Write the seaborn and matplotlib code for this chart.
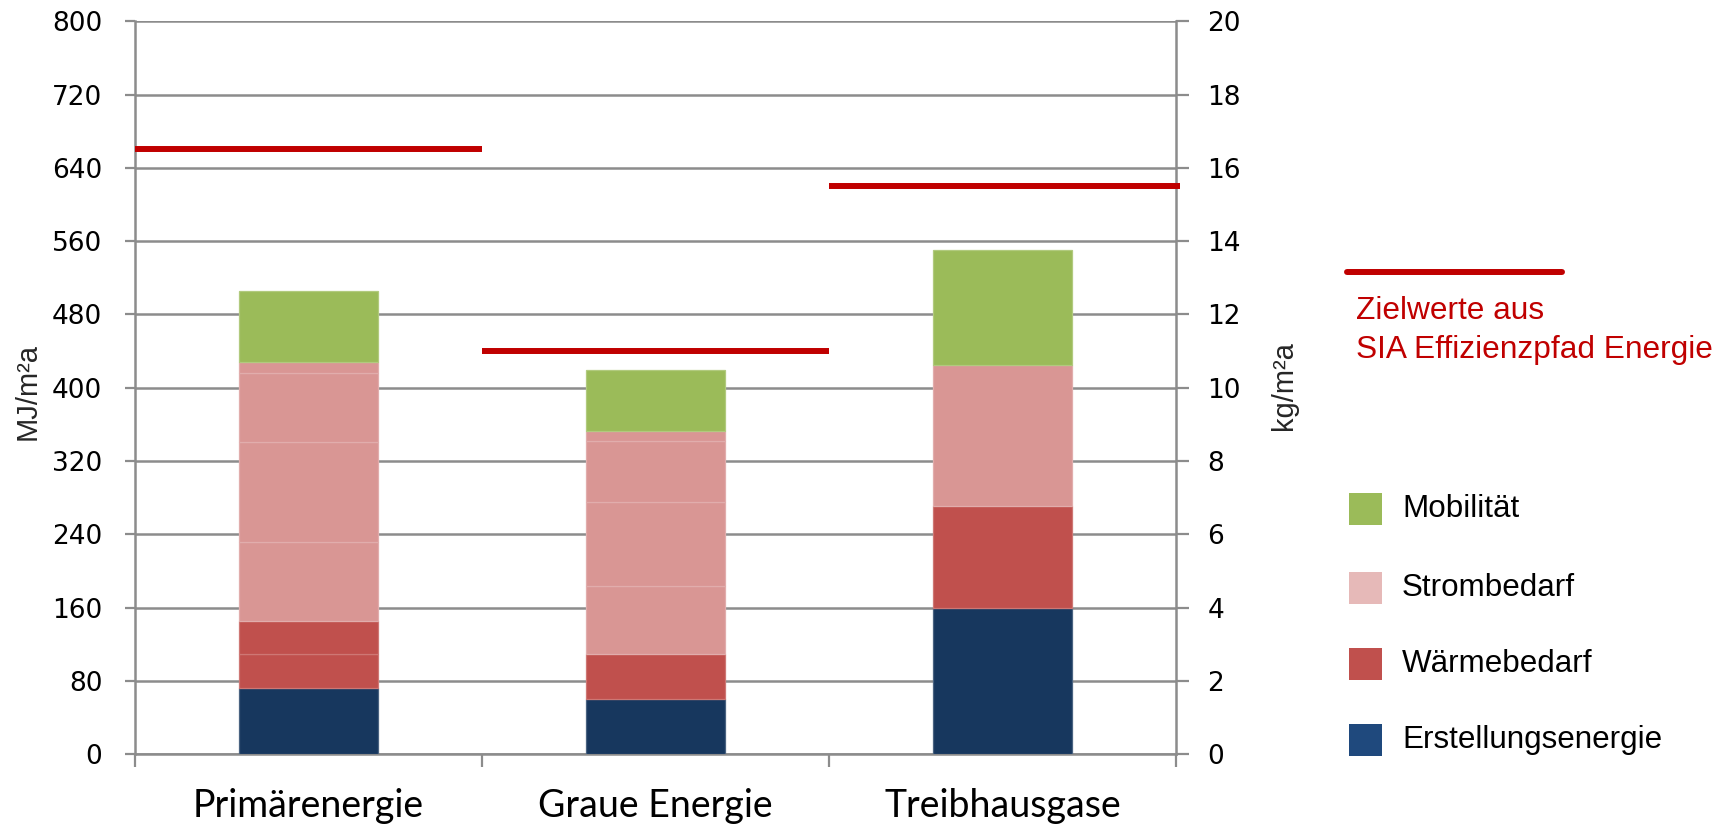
import numpy as np
import pandas as pd
import matplotlib
matplotlib.use("Agg")
import matplotlib.pyplot as plt
from matplotlib.lines import Line2D
from matplotlib.patches import Rectangle
import matplotlib.colors as mcolors
import seaborn as sns

# ---- data -------------------------------------------------------------
categories = ["Primärenergie", "Graue Energie", "Treibhausgase"]
# first two categories in MJ/m²a (left axis), last one in kg/m²a (right axis)
erstellung = [72.3, 60.2, 4.0]
waerme = [[37.1, 36.7], [48.9], [2.77]]
strom = [[85.4, 109.0, 75.2, 12.0], [74.5, 92.3, 65.7, 11.0], [3.84]]
mobilitaet = [78.1, 67.1, 3.14]
zielwerte = [660, 440, 15.5]

left_ticks = list(range(0, 801, 80))
right_ticks = list(range(0, 21, 2))

legend_labels = ["Mobilität", "Strombedarf", "Wärmebedarf", "Erstellungsenergie"]
target_label = ["Zielwerte aus", "SIA Effizienzpfad Energie"]

# ---- colours ------------------------------------------------------------
bar_colors = {"Erstellung": "#17375E", "Wärme": "#C0504D",
              "Strom": "#D99694", "Mobilität": "#9BBB59"}
legend_colors = ["#9BBB59", "#E6B9B8", "#C0504D", "#1F497D"]
target_color = "#C00000"
grid_color = "#8C8C8C"


def lighter(c, f=0.22):
    r, g, b = mcolors.to_rgb(c)
    return (r + (1 - r) * f, g + (1 - g) * f, b + (1 - b) * f)


# ---- long-form segment table -------------------------------------------
rows = []
for i, cat in enumerate(categories):
    parts = ([("Erstellung", erstellung[i])]
             + [("Wärme", v) for v in waerme[i]]
             + [("Strom", v) for v in strom[i]]
             + [("Mobilität", mobilitaet[i])])
    bottoms = np.concatenate([[0], np.cumsum([v for _, v in parts])[:-1]])
    for (group, v), b in zip(parts, bottoms):
        rows.append({"kategorie": cat, "gruppe": group, "wert": v, "basis": b})
segments = pd.DataFrame(rows)

# ---- figure -------------------------------------------------------------
sns.set_theme(style="white")
plt.rcParams["font.family"] = ["DejaVu Sans"]

fig = plt.figure(figsize=(17.28, 8.27), dpi=100)
ax = fig.add_axes([0.0781, 0.0877, 0.6025, 0.8867])
ax2 = ax.twinx()

for _, r in segments.iterrows():
    target_ax = ax2 if r["kategorie"] == "Treibhausgase" else ax
    col = bar_colors[r["gruppe"]]
    sns.barplot(x=[r["kategorie"]], y=[r["wert"]], order=categories,
                bottom=r["basis"], width=0.4, color=col, saturation=1,
                errorbar=None, edgecolor=lighter(col), linewidth=0.9,
                ax=target_ax, zorder=3)

# target values
ax.hlines(zielwerte[0], -0.5, 0.5, color=target_color, lw=4.3, zorder=6, clip_on=False)
ax.hlines(zielwerte[1], 0.5, 1.5, color=target_color, lw=4.3, zorder=6, clip_on=False)
ax2.hlines(zielwerte[2], 1.5, 2.51, color=target_color, lw=4.3, zorder=6, clip_on=False)

# axes ranges and ticks
ax.set_xlim(-0.5, 2.5)
ax.set_ylim(0, 800)
ax2.set_ylim(0, 20)
ax.set_yticks(left_ticks)
ax2.set_yticks(right_ticks)
ax.set_xticks(range(len(categories)))
ax.set_xticklabels(categories, family=["Lato", "DejaVu Sans"], fontsize=27)
ax.set_xticks([-0.5, 0.5, 1.5, 2.5], minor=True)
ax.set_xlabel("")
ax2.set_xlabel("")
ax.set_ylabel("")
ax2.set_ylabel("")

ax.yaxis.grid(True, color=grid_color, lw=1.8)
ax.xaxis.grid(False)
ax2.grid(False)
ax.set_axisbelow(True)

ax.tick_params(axis="y", left=True, length=7.5, width=1.6, color=grid_color,
               pad=16, labelsize=19, labelcolor="black")
ax2.tick_params(axis="y", right=True, length=9.5, width=1.6, color=grid_color,
                pad=13, labelsize=19, labelcolor="black")
ax.tick_params(axis="x", which="major", bottom=False, length=0, pad=24,
               labelcolor="black")
ax.tick_params(axis="x", which="minor", bottom=True, length=9, width=1.6,
               color=grid_color)
ax2.tick_params(axis="x", which="both", bottom=False, top=False,
                labelbottom=False)

for s in ["top", "right"]:
    ax.spines[s].set_visible(False)
for s in ["top", "left", "bottom"]:
    ax2.spines[s].set_visible(False)
for sp in [ax.spines["left"], ax.spines["bottom"], ax2.spines["right"]]:
    sp.set_color(grid_color)
    sp.set_linewidth(1.8)

# axis titles
W, H = 1728, 827
narrow = ["Liberation Sans Narrow", "Liberation Sans", "DejaVu Sans"]
fig.text(27.5 / W, 1 - 391 / H, "MJ/m²a", rotation=90, ha="center",
         va="center", fontsize=21, family=narrow)
fig.text(1284 / W, 1 - 386 / H, "kg/m²a", rotation=90, ha="center",
         va="center", fontsize=21, family=narrow)

# legend, drawn in figure pixels
arial = ["Liberation Sans", "DejaVu Sans"]
fig.add_artist(Line2D([1347 / W, 1562 / W], [1 - 272 / H, 1 - 272 / H],
                      color=target_color, lw=4.3, transform=fig.transFigure))
fig.text(1356 / W, 1 - 311 / H, target_label[0], color=target_color,
         fontsize=22.8, family=arial, va="center", ha="left")
fig.text(1356 / W, 1 - 350 / H, target_label[1], color=target_color,
         fontsize=22.8, family=arial, va="center", ha="left")

legend_y = [509, 588, 664, 740]
for lab, col, yy in zip(legend_labels, legend_colors, legend_y):
    fig.add_artist(Rectangle((1349 / W, 1 - (yy + 16) / H), 33 / W, 32 / H,
                             facecolor=col, edgecolor="none",
                             transform=fig.transFigure))
    fig.text(1402 / W, 1 - yy / H, lab, fontsize=22.6, family=arial,
             va="center", ha="left", color="black")

fig.savefig("out.png", dpi=100, facecolor="white")
